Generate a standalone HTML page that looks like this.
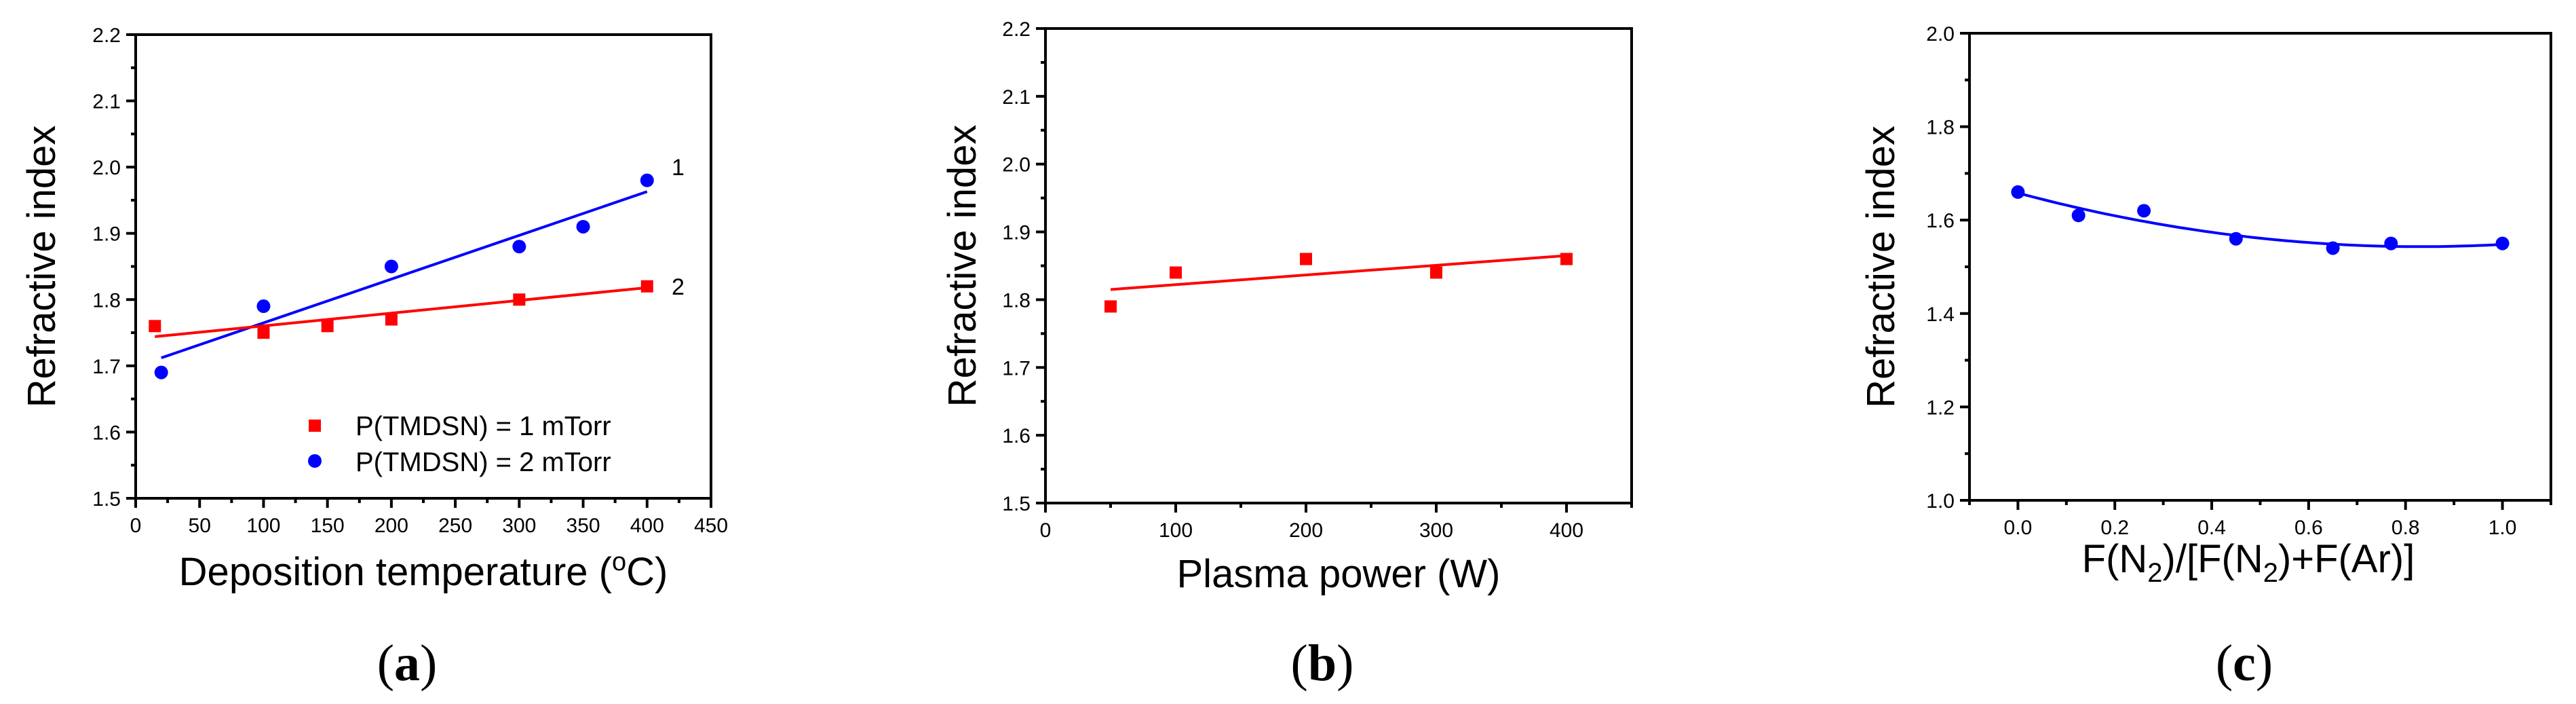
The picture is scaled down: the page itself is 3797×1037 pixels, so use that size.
<!DOCTYPE html>
<html><head><meta charset="utf-8">
<style>
html,body{margin:0;padding:0;background:#fff;}
svg{display:block;}
text{font-family:"Liberation Sans",Arial,sans-serif;fill:#000;}
.pl{font-family:"Liberation Serif","Times New Roman",serif;}
</style></head>
<body>
<svg id="fig" width="3797" height="1037" viewBox="0 0 3797 1037" xmlns="http://www.w3.org/2000/svg"></svg>
<script>
// Panel (a)
const aX1 = [15, 100, 150, 200, 300, 400];
const aY1 = [1.76, 1.75, 1.76, 1.77, 1.80, 1.82];
const aX2 = [20, 100, 200, 300, 350, 400];
const aY2 = [1.69, 1.79, 1.85, 1.88, 1.91, 1.98];
const aFit1X = [15, 400];
const aFit1Y = [1.744, 1.818];
const aFit2X = [20, 400];
const aFit2Y = [1.712, 1.963];
const aXTicks = [0, 50, 100, 150, 200, 250, 300, 350, 400, 450];
const aYTicks = [1.5, 1.6, 1.7, 1.8, 1.9, 2.0, 2.1, 2.2];
// Panel (b)
const bX = [50, 100, 200, 300, 400];
const bY = [1.79, 1.84, 1.86, 1.84, 1.86];
const bFitX = [50, 400];
const bFitY = [1.815, 1.865];
const bXTicks = [0, 100, 200, 300, 400];
const bYTicks = [1.5, 1.6, 1.7, 1.8, 1.9, 2.0, 2.1, 2.2];
// Panel (c)
const cX = [0, 0.125, 0.26, 0.45, 0.65, 0.77, 1.0];
const cY = [1.66, 1.61, 1.62, 1.56, 1.54, 1.55, 1.55];
const cFitCoef = [1.658, -0.277, 0.167];
const cFitRange = [0, 1.0];
const cXTicks = ["0.0", "0.2", "0.4", "0.6", "0.8", "1.0"];
const cYTicks = ["1.0", "1.2", "1.4", "1.6", "1.8", "2.0"];

const NS = "http://www.w3.org/2000/svg";
const svg = document.getElementById('fig');
function mk(tag, attrs, parent, txt) {
  const e = document.createElementNS(NS, tag);
  for (const k in attrs) e.setAttribute(k, attrs[k]);
  if (txt !== undefined) e.textContent = txt;
  (parent || svg).appendChild(e);
  return e;
}

function panel(cfg) {
  const g = mk('g', {});
  
  
  const sx = v => cfg.L + (v - cfg.xmin) / (cfg.xmax - cfg.xmin) * (cfg.R - cfg.L);
  const sy = v => cfg.B - (v - cfg.ymin) / (cfg.ymax - cfg.ymin) * (cfg.B - cfg.T);
  const fr = mk('rect', {x: cfg.L, y: cfg.T, width: cfg.R - cfg.L, height: cfg.B - cfg.T, fill: 'none', stroke: '#000', 'stroke-width': 4}, g);
  
  
  const xt = mk('g', {}, g);
  
  
  cfg.xMajor.forEach(v => {
    const x = sx(v);
    mk('line', {x1: x, x2: x, y1: cfg.B, y2: cfg.B + 14, stroke: '#000', 'stroke-width': 4}, xt);
  });
  cfg.xMinor.forEach(v => {
    const x = sx(v);
    mk('line', {x1: x, x2: x, y1: cfg.B, y2: cfg.B + 7, stroke: '#000', 'stroke-width': 4}, xt);
  });
  cfg.xLabels.forEach(s => {
    const t = mk('text', {x: sx(parseFloat(s)), y: cfg.B + 50, 'font-size': 30, 'text-anchor': 'middle'}, xt, s);
    
    
  });
  const yt = mk('g', {}, g);
  
  
  cfg.yMajor.forEach(v => {
    const y = sy(v);
    mk('line', {x1: cfg.L - 14, x2: cfg.L, y1: y, y2: y, stroke: '#000', 'stroke-width': 4}, yt);
  });
  cfg.yMinor.forEach(v => {
    const y = sy(v);
    mk('line', {x1: cfg.L - 7, x2: cfg.L, y1: y, y2: y, stroke: '#000', 'stroke-width': 4}, yt);
  });
  cfg.yLabels.forEach(s => {
    const t = mk('text', {x: cfg.L - 22, y: sy(parseFloat(s)) + 11, 'font-size': 30, 'text-anchor': 'end'}, yt, s);
    
    
  });
  const yTitle = mk('text', {x: cfg.yTitleX, y: (cfg.T + cfg.B) / 2, 'font-size': 58, 'text-anchor': 'middle', transform: `rotate(-90 ${cfg.yTitleX} ${(cfg.T + cfg.B) / 2})`, dy: 20}, g, 'Refractive index');
  
  
  const xTitle = mk('text', {x: cfg.xTitleCX, y: cfg.xTitleY, 'font-size': 58, 'text-anchor': 'middle'}, g);
  xTitle.innerHTML = cfg.xTitle;
  
  
  const pl = mk('text', {x: cfg.labelX, y: 1002, 'font-size': 76, 'text-anchor': 'middle', class: 'pl'}, g);
  pl.innerHTML = '(<tspan font-weight="bold">' + cfg.label + '</tspan>)';
  
  
  return {g, sx, sy};
}

function squares(p, xs, ys, parent) {
  xs.forEach((x, i) => {
    const r = mk('rect', {x: p.sx(x) - 9, y: p.sy(ys[i]) - 9, width: 18, height: 18, fill: '#ff0000'}, parent);
    
    
  });
}
function circles(p, xs, ys, parent) {
  xs.forEach((x, i) => {
    const c = mk('circle', {cx: p.sx(x), cy: p.sy(ys[i]), r: 10, fill: '#0000ff'}, parent);
    
    
  });
}
function fitLine(p, xs, ys, color, parent, name) {
  const l = mk('line', {x1: p.sx(xs[0]), y1: p.sy(ys[0]), x2: p.sx(xs[1]), y2: p.sy(ys[1]), stroke: color, 'stroke-width': 4}, parent);
  
  
}

const pa = panel({name: 'panel-a', L: 200, R: 1048, T: 51, B: 734, xmin: 0, xmax: 450, ymin: 1.5, ymax: 2.2,
  xMajor: aXTicks, xMinor: aXTicks.slice(0, -1).map(v => v + 25),
  xLabels: aXTicks.map(String),
  yMajor: aYTicks, yMinor: aYTicks.slice(0, -1).map(v => v + 0.05),
  yLabels: aYTicks.map(v => v.toFixed(1)),
  yTitleX: 61, xTitleCX: 624, xTitleY: 862,
  xTitle: 'Deposition temperature (<tspan font-size="38" dy="-22">o</tspan><tspan dy="22">C)</tspan>',
  label: 'a', labelX: 600});
fitLine(pa, aFit2X, aFit2Y, '#0000ff', pa.g, 'fit-line-2mtorr');
fitLine(pa, aFit1X, aFit1Y, '#ff0000', pa.g, 'fit-line-1mtorr');
squares(pa, aX1, aY1, pa.g);
circles(pa, aX2, aY2, pa.g);
let t = mk('text', {x: 990, y: pa.sy(2.0) + 12, 'font-size': 34}, pa.g, '1');


t = mk('text', {x: 990, y: pa.sy(1.82) + 12, 'font-size': 34}, pa.g, '2');


const lg = mk('g', {}, pa.g);


mk('rect', {x: 455, y: 618, width: 18, height: 18, fill: '#ff0000'}, lg);
mk('circle', {cx: 464, cy: 679, r: 10, fill: '#0000ff'}, lg);
t = mk('text', {x: 524, y: 641, 'font-size': 40}, lg, 'P(TMDSN) = 1 mTorr');


t = mk('text', {x: 524, y: 694, 'font-size': 40}, lg, 'P(TMDSN) = 2 mTorr');



const pb = panel({name: 'panel-b', L: 1541, R: 2405, T: 42, B: 741, xmin: 0, xmax: 450, ymin: 1.5, ymax: 2.2,
  xMajor: [0, 100, 200, 300, 400], xMinor: [50, 150, 250, 350, 450],
  xLabels: bXTicks.map(String),
  yMajor: bYTicks, yMinor: bYTicks.slice(0, -1).map(v => v + 0.05),
  yLabels: bYTicks.map(v => v.toFixed(1)),
  yTitleX: 1418, xTitleCX: 1973, xTitleY: 865,
  xTitle: 'Plasma power (W)',
  label: 'b', labelX: 1949});
fitLine(pb, bFitX, bFitY, '#ff0000', pb.g, 'fit-line');
squares(pb, bX, bY, pb.g);

const pc = panel({name: 'panel-c', L: 2903, R: 3760, T: 49, B: 737, xmin: -0.1, xmax: 1.1, ymin: 1.0, ymax: 2.0,
  xMajor: [0, 0.2, 0.4, 0.6, 0.8, 1.0], xMinor: [-0.1, 0.1, 0.3, 0.5, 0.7, 0.9, 1.1],
  xLabels: cXTicks,
  yMajor: [1.0, 1.2, 1.4, 1.6, 1.8, 2.0], yMinor: [1.1, 1.3, 1.5, 1.7, 1.9],
  yLabels: cYTicks,
  yTitleX: 2772, xTitleCX: 3314, xTitleY: 843,
  xTitle: 'F(N<tspan font-size="40" dy="14">2</tspan><tspan dy="-14">)/[F(N</tspan><tspan font-size="40" dy="14">2</tspan><tspan dy="-14">)+F(Ar)]</tspan>',
  label: 'c', labelX: 3308});
let d = '';
for (let i = 0; i <= 60; i++) {
  const x = cFitRange[0] + (cFitRange[1] - cFitRange[0]) * i / 60;
  const y = cFitCoef[0] + cFitCoef[1] * x + cFitCoef[2] * x * x;
  d += (i ? 'L' : 'M') + pc.sx(x).toFixed(1) + ' ' + pc.sy(y).toFixed(1);
}
const fc = mk('path', {d: d, fill: 'none', stroke: '#0000ff', 'stroke-width': 4}, pc.g);


circles(pc, cX, cY, pc.g);
</script>
</body></html>
